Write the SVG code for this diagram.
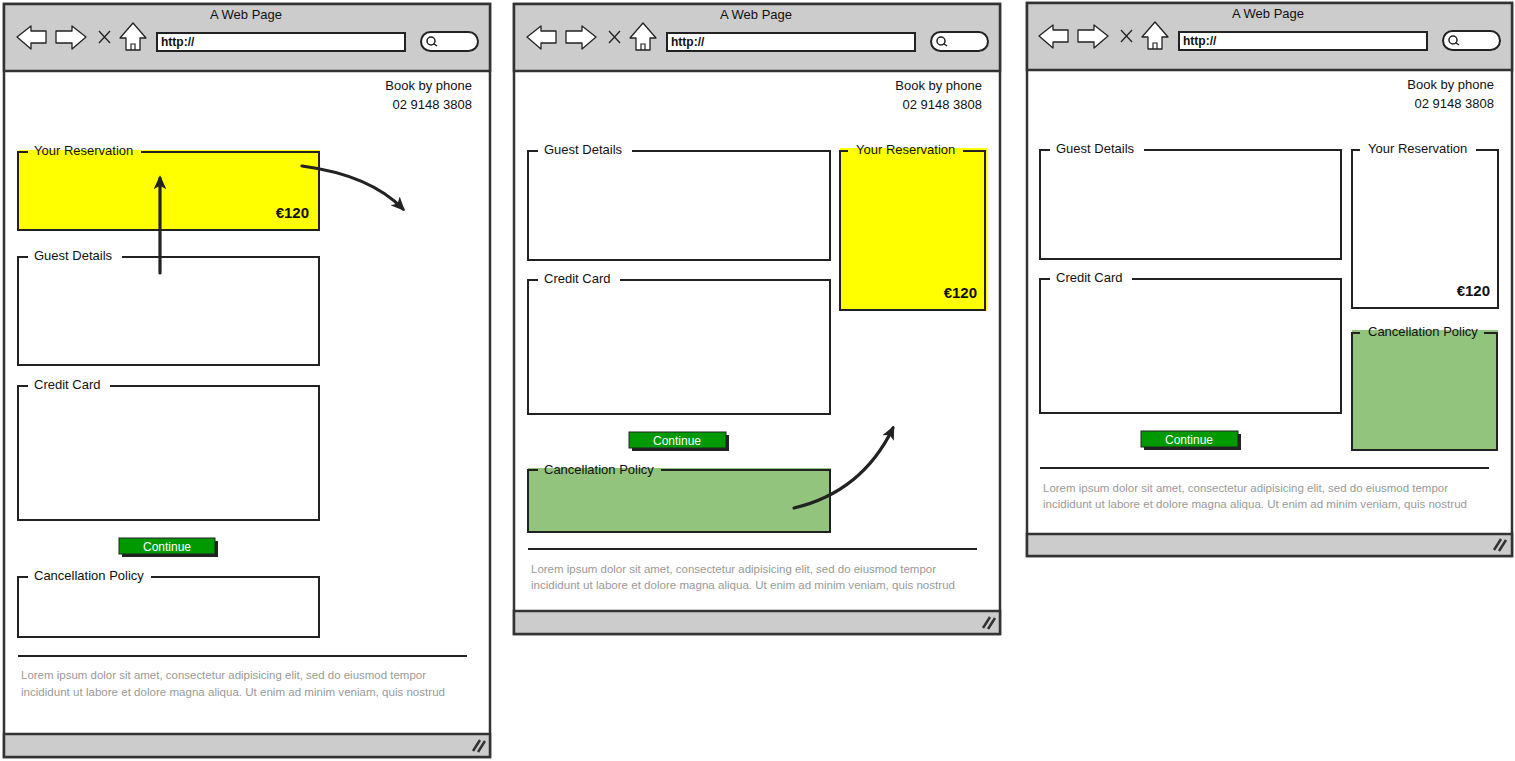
<svg xmlns="http://www.w3.org/2000/svg" width="1515" height="761" viewBox="0 0 1515 761">
<defs>
<style>
text{font-family:"Liberation Sans",Arial,sans-serif;fill:#111}
.frame{fill:#fff;stroke:#333;stroke-width:2.5}
.chrome{fill:#cccccc;stroke:#333;stroke-width:2.5}
.icon{fill:#fff;stroke:#222;stroke-width:1.3;stroke-linejoin:round}
.url{fill:#fff;stroke:#222;stroke-width:2}
.box{fill:none;stroke:#222;stroke-width:2}
.yel{fill:#ffff00}
.grn{fill:#93c47d}
.lbl{font-size:13px}
.title{font-size:13px;text-anchor:middle}
.phone{font-size:13px;text-anchor:end}
.lorem{font-size:10.8px;fill:#999}
.btn{fill:#009900;stroke:#222;stroke-width:1}
.btnsh{fill:#222}
.btntxt{font-size:12px;fill:#fff;text-anchor:middle}
.price{font-size:15px;text-anchor:end;font-weight:bold}
.sep{stroke:#222;stroke-width:2}
.conn{fill:none;stroke:#222;stroke-width:3.2;stroke-linecap:round}
</style>
<marker id="ah" viewBox="0 0 10 10" refX="8" refY="5" markerWidth="14" markerHeight="14" markerUnits="userSpaceOnUse" orient="auto">
<path d="M0,0.5 L10,5 L0,9.5 L2.5,5 z" fill="#222"/>
</marker>
<g id="chromeTpl">
<path class="icon" d="M13,37 L27,26 L27,31 L42,31 L42,43 L27,43 L27,49 z"/>
<path class="icon" d="M82,37 L68,26 L68,31 L52,31 L52,43 L68,43 L68,49 z"/>
<path d="M95,31 L106,43 M106,31 L95,43" stroke="#222" stroke-width="1.3" fill="none"/>
<path class="icon" d="M129,23 L116,38 L122,38 L122,50 L136,50 L136,38 L142,38 z"/>
<path d="M127,50 L127,44 L131,44 L131,50" fill="none" stroke="#222" stroke-width="1.2"/>
<rect class="url" x="153" y="33" width="248" height="18"/>
<text x="157" y="46" style="font-size:12px;font-weight:bold">http://</text>
<rect class="url" x="417" y="32" width="57" height="19" rx="9.5"/>
<circle cx="427" cy="41" r="4" fill="none" stroke="#222" stroke-width="1.5"/>
<path d="M429.5,43.5 L433,46" stroke="#222" stroke-width="1.5"/>
<text class="title" x="242" y="19">A Web Page</text>
<text class="phone" x="468" y="90">Book by phone</text>
<text class="phone" x="468" y="109">02 9148 3808</text>
</g>
</defs>
<rect width="1515" height="761" fill="#fff"/>

<!-- Panel 1 -->
<g id="window1">
<rect class="frame" x="4" y="4" width="486" height="753"/>
<rect class="chrome" x="4" y="4" width="486" height="67"/>
<rect class="chrome" x="4" y="734" width="486" height="23"/>
<path d="M473,751 L480,740 M478,752 L485,741" stroke="#333" stroke-width="2.5"/>
<use href="#chromeTpl" x="4" y="0"/>
</g>
<g id="p1-reservation">
<rect class="yel" x="18" y="150" width="302" height="81"/>
<path class="box" d="M141,152 H319 V230 H18 V152 H28"/>
<text class="lbl" x="34" y="155">Your Reservation</text>
<text class="price" x="309" y="218">€120</text>
</g>
<g id="p1-guest">
<path class="box" d="M122,257 H319 V365 H18 V257 H28"/>
<text class="lbl" x="34" y="260">Guest Details</text>
</g>
<g id="p1-credit">
<path class="box" d="M110,386 H319 V520 H18 V386 H28"/>
<text class="lbl" x="34" y="389">Credit Card</text>
</g>
<g id="p1-continue">
<rect class="btnsh" x="122" y="541" width="96" height="16"/>
<rect class="btn" x="119" y="538" width="96" height="16"/>
<text class="btntxt" x="167" y="551">Continue</text>
</g>
<g id="p1-cancel">
<path class="box" d="M151,577 H319 V637 H18 V577 H28"/>
<text class="lbl" x="34" y="580">Cancellation Policy</text>
</g>
<g id="p1-footer">
<line class="sep" x1="18" y1="656" x2="467" y2="656"/>
<text class="lorem" x="21" y="679" textLength="405" lengthAdjust="spacingAndGlyphs">Lorem ipsum dolor sit amet, consectetur adipisicing elit, sed do eiusmod tempor</text>
<text class="lorem" x="21" y="696" textLength="424" lengthAdjust="spacingAndGlyphs">incididunt ut labore et dolore magna aliqua. Ut enim ad minim veniam, quis nostrud</text>
</g>

<!-- Panel 2 -->
<g id="window2">
<rect class="frame" x="514" y="4" width="486" height="630"/>
<rect class="chrome" x="514" y="4" width="486" height="67"/>
<rect class="chrome" x="514" y="611" width="486" height="23"/>
<path d="M983,628 L990,617 M988,629 L995,618" stroke="#333" stroke-width="2.5"/>
<use href="#chromeTpl" x="514" y="0"/>
</g>
<g id="p2-guest">
<path class="box" d="M632,151 H830 V260 H528 V151 H538"/>
<text class="lbl" x="544" y="154">Guest Details</text>
</g>
<g id="p2-credit">
<path class="box" d="M620,280 H830 V414 H528 V280 H538"/>
<text class="lbl" x="544" y="283">Credit Card</text>
</g>
<g id="p2-reservation">
<rect class="yel" x="840" y="148" width="147" height="163"/>
<path class="box" d="M963,151 H985 V310 H840 V151 H848"/>
<text class="lbl" x="856" y="154">Your Reservation</text>
<text class="price" x="977" y="298">€120</text>
</g>
<g id="p2-continue">
<rect class="btnsh" x="632" y="435" width="97" height="16"/>
<rect class="btn" x="629" y="432" width="97" height="16"/>
<text class="btntxt" x="677" y="445">Continue</text>
</g>
<g id="p2-cancel">
<rect class="grn" x="528" y="468" width="303" height="65"/>
<path class="box" d="M661,470 H830 V532 H528 V470 H538"/>
<text class="lbl" x="544" y="474">Cancellation Policy</text>
</g>
<g id="p2-footer">
<line class="sep" x1="528" y1="549" x2="977" y2="549"/>
<text class="lorem" x="531" y="573" textLength="405" lengthAdjust="spacingAndGlyphs">Lorem ipsum dolor sit amet, consectetur adipisicing elit, sed do eiusmod tempor</text>
<text class="lorem" x="531" y="589" textLength="424" lengthAdjust="spacingAndGlyphs">incididunt ut labore et dolore magna aliqua. Ut enim ad minim veniam, quis nostrud</text>
</g>

<!-- Panel 3 -->
<g id="window3">
<rect class="frame" x="1027" y="3" width="485" height="553"/>
<rect class="chrome" x="1027" y="3" width="485" height="67"/>
<rect class="chrome" x="1027" y="534" width="485" height="22"/>
<path d="M1494,550 L1501,539 M1499,551 L1506,540" stroke="#333" stroke-width="2.5"/>
<use href="#chromeTpl" x="1026" y="-1"/>
</g>
<g id="p3-guest">
<path class="box" d="M1144,150 H1341 V259 H1040 V150 H1050"/>
<text class="lbl" x="1056" y="153">Guest Details</text>
</g>
<g id="p3-credit">
<path class="box" d="M1132,279 H1341 V413 H1040 V279 H1050"/>
<text class="lbl" x="1056" y="282">Credit Card</text>
</g>
<g id="p3-reservation">
<path class="box" d="M1476,150 H1498 V308 H1352 V150 H1360"/>
<text class="lbl" x="1368" y="153">Your Reservation</text>
<text class="price" x="1490" y="296">€120</text>
</g>
<g id="p3-cancel">
<rect class="grn" x="1352" y="330" width="146" height="121"/>
<path class="box" d="M1484,333 H1497 V450 H1352 V333 H1360"/>
<text class="lbl" x="1368" y="336">Cancellation Policy</text>
</g>
<g id="p3-continue">
<rect class="btnsh" x="1144" y="434" width="97" height="16"/>
<rect class="btn" x="1141" y="431" width="97" height="16"/>
<text class="btntxt" x="1189" y="444">Continue</text>
</g>
<g id="p3-footer">
<line class="sep" x1="1040" y1="468" x2="1489" y2="468"/>
<text class="lorem" x="1043" y="492" textLength="405" lengthAdjust="spacingAndGlyphs">Lorem ipsum dolor sit amet, consectetur adipisicing elit, sed do eiusmod tempor</text>
<text class="lorem" x="1043" y="508" textLength="424" lengthAdjust="spacingAndGlyphs">incididunt ut labore et dolore magna aliqua. Ut enim ad minim veniam, quis nostrud</text>
</g>

<g id="connectors">
<path class="conn" d="M160,273 L160,178" marker-end="url(#ah)"/>
<path class="conn" d="M302,166 Q370,175 403,209" marker-end="url(#ah)"/>
<path class="conn" d="M794,508 Q862,492 893,428" marker-end="url(#ah)"/>
</g>
</svg>
